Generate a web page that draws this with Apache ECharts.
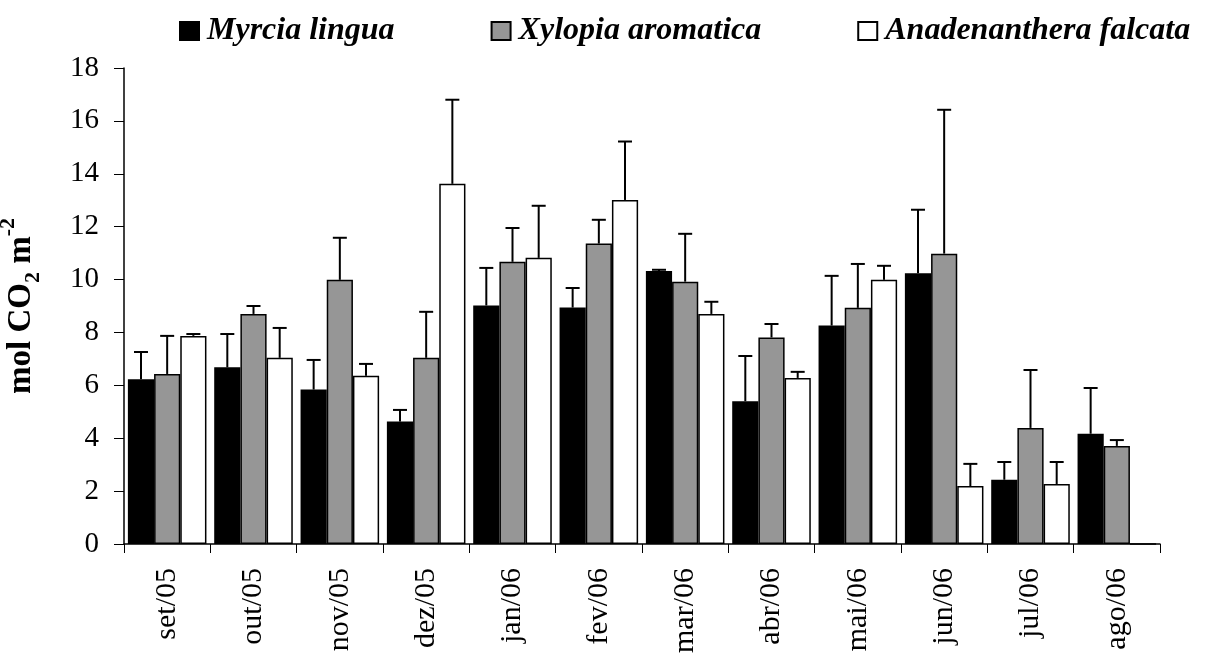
<!DOCTYPE html>
<html>
<head>
<meta charset="utf-8">
<script src="https://cdn.jsdelivr.net/npm/echarts@6/dist/echarts.min.js"></script>
<style>
  html, body { margin: 0; padding: 0; background: #fff; }
  #chart { width: 1210px; height: 653px; }
</style>
</head>
<body>
<div id="chart"></div>
<script>
// months of the sampling
var categories = ['set/05', 'out/05', 'nov/05', 'dez/05', 'jan/06', 'fev/06', 'mar/06', 'abr/06', 'mai/06', 'jun/06', 'jul/06', 'ago/06']
var yTicks = [0, 2, 4, 6, 8, 10, 12, 14, 16, 18]

// means
var myrcia = [6.23, 6.68, 5.84, 4.63, 9.02, 8.94, 10.32, 5.40, 8.26, 10.24, 2.43, 4.17]
var xylopia = [6.43, 8.70, 9.99, 7.04, 10.67, 11.36, 9.92, 7.81, 8.93, 10.98, 4.39, 3.71]
var anadenanthera = [7.87, 7.04, 6.36, 13.62, 10.82, 13.01, 8.70, 6.28, 9.99, 2.19, 2.27, 0]

// upper error (sd)
var myrciaErr = [1.03, 1.26, 1.12, 0.44, 1.42, 0.74, 0.05, 1.71, 1.88, 2.40, 0.67, 1.73]
var xylopiaErr = [1.44, 0.30, 1.59, 1.74, 1.28, 0.90, 1.81, 0.51, 1.66, 5.44, 2.19, 0.22]
var anadenantheraErr = [0.07, 1.13, 0.45, 3.18, 1.97, 2.21, 0.46, 0.23, 0.53, 0.84, 0.83, 0]

var FONT = '"Liberation Serif", "Times New Roman", serif'
var CAT_GAP = 0.09

function barSeries (name, color, data) {
  return {
    name: name,
    type: 'bar',
    data: data,
    barGap: '0%',
    barCategoryGap: (CAT_GAP * 100) + '%',
    itemStyle: { color: color, borderColor: '#000', borderWidth: 1.5 },
    emphasis: { disabled: true }
  }
}

function errorSeries (idx, means, errs) {
  var d = means.map(function (m, i) { return [i, m, errs[i]] })
  return {
    type: 'custom',
    z: 5,
    silent: true,
    data: d,
    renderItem: function (params, api) {
      var sd = api.value(2)
      if (!sd) return
      var mean = api.value(1)
      var bandW = api.size([1, 0])[0]
      var barW = bandW * (1 - CAT_GAP) / 3
      var base = api.coord([api.value(0), mean])
      var top = api.coord([api.value(0), mean + sd])
      var x = base[0] + (idx - 1) * barW
      var style = { stroke: '#000', lineWidth: 2 }
      return {
        type: 'group',
        children: [
          { type: 'line', shape: { x1: x, y1: base[1], x2: x, y2: top[1] }, style: style },
          { type: 'line', shape: { x1: x - 7, y1: top[1], x2: x + 7, y2: top[1] }, style: style }
        ]
      }
    }
  }
}

var chart = echarts.init(document.getElementById('chart'))
chart.setOption({
  backgroundColor: '#fff',
  animation: false,
  legend: {
    top: 10,
    left: 174,
    itemWidth: 19,
    itemHeight: 18,
    itemGap: 96,
    icon: 'rect',
    textStyle: {
      fontFamily: FONT,
      fontStyle: 'italic',
      fontWeight: 'bold',
      fontSize: 32,
      color: '#000',
      padding: [0, 0, 0, 3]
    },
    data: ['Myrcia lingua', 'Xylopia aromatica', 'Anadenanthera falcata']
  },
  grid: { left: 124, right: 50, top: 68, bottom: 109, containLabel: false, outerBoundsMode: 'none' },
  xAxis: {
    type: 'category',
    data: categories,
    axisLine: { lineStyle: { color: '#000', width: 1.5 } },
    axisTick: { show: true, length: 9, lineStyle: { color: '#000' } },
    axisLabel: {
      rotate: 90,
      margin: 24,
      fontFamily: FONT,
      fontSize: 30,
      color: '#000'
    }
  },
  yAxis: {
    type: 'value',
    min: 0,
    max: 18,
    interval: 2,
    name: '{a|mol CO}{sub|2}{a| m}{sup|-2}',
    nameLocation: 'middle',
    nameRotate: 90,
    nameGap: 84,
    nameTextStyle: {
      rich: {
        a: { fontFamily: FONT, fontWeight: 'bold', fontSize: 33, color: '#000', lineHeight: 38, verticalAlign: 'middle' },
        sub: { fontFamily: FONT, fontWeight: 'bold', fontSize: 22, color: '#000', lineHeight: 38, verticalAlign: 'bottom', padding: [0, 0, -4, 0] },
        sup: { fontFamily: FONT, fontWeight: 'bold', fontSize: 22, color: '#000', lineHeight: 38, verticalAlign: 'top', padding: [-5, 0, 0, 0] }
      }
    },
    axisLine: { show: true, lineStyle: { color: '#000', width: 1.5 } },
    axisTick: { show: true, length: 10, lineStyle: { color: '#000' } },
    splitLine: { show: false },
    axisLabel: {
      margin: 25,
      fontFamily: FONT,
      fontSize: 29,
      color: '#000',
      formatter: function (v) { return yTicks.indexOf(v) >= 0 ? String(v) : '' }
    }
  },
  series: [
    barSeries('Myrcia lingua', '#000', myrcia),
    barSeries('Xylopia aromatica', '#969696', xylopia),
    barSeries('Anadenanthera falcata', '#fff', anadenanthera),
    errorSeries(0, myrcia, myrciaErr),
    errorSeries(1, xylopia, xylopiaErr),
    errorSeries(2, anadenanthera, anadenantheraErr)
  ]
})
</script>
</body>
</html>
